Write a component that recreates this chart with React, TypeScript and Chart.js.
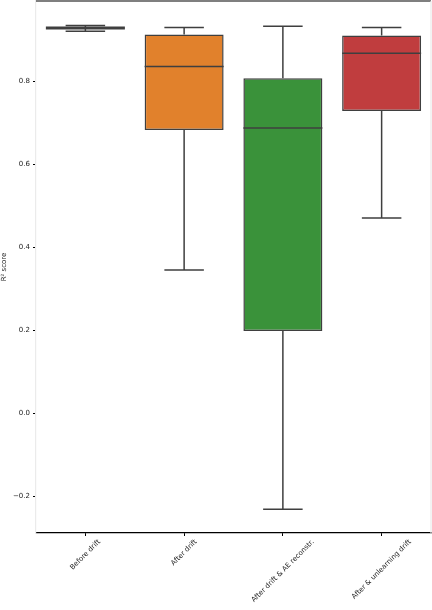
import React, { useEffect, useRef } from "react";
import { Chart, registerables } from "chart.js";

Chart.register(...registerables);

const categories = ["Before drift", "After drift", "After drift & AE reconstr.", "After & unlearning drift"];
const whiskerLow = [0.920, 0.345, -0.232, 0.470];
const q1 = [0.927, 0.682, 0.198, 0.728];
const medians = [0.928, 0.835, 0.687, 0.867];
const q3 = [0.929, 0.912, 0.807, 0.910];
const whiskerHigh = [0.934, 0.929, 0.932, 0.929];
const yTicks = [-0.2, 0.0, 0.2, 0.4, 0.6, 0.8];
const colors = ["#3274a1", "#e1812c", "#3a923a", "#c03d3e"];

const LINE = "#3f3f3f";
const FONT = "7px 'DejaVu Sans'";

const boxPlugin = {
  id: "boxExtras",
  afterDatasetsDraw(chart: any) {
    const ctx = chart.ctx;
    const y = chart.scales.y;
    const x = chart.scales.x;
    const meta = chart.getDatasetMeta(0);
    ctx.save();
    ctx.strokeStyle = LINE;
    ctx.lineWidth = 1.5;
    meta.data.forEach((bar: any, i: number) => {
      const cx = bar.x;
      const w = bar.width;
      const capHalf = w / 4;
      const pHi = y.getPixelForValue(whiskerHigh[i]);
      const pLo = y.getPixelForValue(whiskerLow[i]);
      const pQ1 = y.getPixelForValue(q1[i]);
      const pQ3 = y.getPixelForValue(q3[i]);
      const pMed = y.getPixelForValue(medians[i]);
      ctx.beginPath();
      ctx.moveTo(cx, pQ3);
      ctx.lineTo(cx, pHi);
      ctx.moveTo(cx, pQ1);
      ctx.lineTo(cx, pLo);
      ctx.moveTo(cx - capHalf, pHi);
      ctx.lineTo(cx + capHalf, pHi);
      ctx.moveTo(cx - capHalf, pLo);
      ctx.lineTo(cx + capHalf, pLo);
      ctx.stroke();
      ctx.beginPath();
      ctx.lineWidth = i === 0 ? 3 : 1.5;
      ctx.moveTo(bar.x - w / 2, pMed);
      ctx.lineTo(bar.x + w / 2, pMed);
      ctx.stroke();
      ctx.lineWidth = 1.5;
    });
    // spines
    const a = chart.chartArea;
    ctx.lineWidth = 1.2;
    ctx.strokeStyle = "#000";
    ctx.beginPath();
    ctx.moveTo(a.left, a.top);
    ctx.lineTo(a.right, a.top);
    ctx.stroke();
    ctx.strokeStyle = "#ebebeb";
    ctx.beginPath();
    ctx.moveTo(a.right, a.top);
    ctx.lineTo(a.right, a.bottom);
    ctx.stroke();
    // rotated x labels, centred on ticks (matplotlib ha='center')
    ctx.font = FONT;
    ctx.fillStyle = "#222";
    ctx.textAlign = "center";
    ctx.textBaseline = "middle";
    const yTop = a.bottom + 5;
    categories.forEach((lab, i) => {
      const px = x.getPixelForValue(i);
      const W = ctx.measureText(lab).width;
      const H = 8;
      const d = (W + H) / (2 * Math.SQRT2);
      ctx.save();
      ctx.translate(px, yTop + d);
      ctx.rotate(-Math.PI / 4);
      ctx.fillText(lab, 0, 0);
      ctx.restore();
    });
    ctx.restore();
  },
};

export default function App() {
  const ref = useRef<HTMLCanvasElement | null>(null);
  useEffect(() => {
    document.body.style.margin = "0";
    const chart = new Chart(ref.current as HTMLCanvasElement, {
      type: "bar",
      data: {
        labels: categories,
        datasets: [
          {
            data: q1.map((v, i) => [v, q3[i]]) as any,
            backgroundColor: colors,
            borderColor: LINE,
            borderWidth: 1.5,
            borderSkipped: false,
            categoryPercentage: 0.8,
            barPercentage: 1.0,
          },
        ],
      },
      options: {
        animation: false,
        responsive: false,
        maintainAspectRatio: false,
        layout: { padding: { top: 1, right: 1, left: 0, bottom: 0 } },
        plugins: { legend: { display: false }, tooltip: { enabled: false } },
        scales: {
          x: {
            grid: { display: true, offset: false, drawOnChartArea: false, drawTicks: true, tickLength: 3, color: "#000" },
            border: { color: "#000", width: 1.2 },
            ticks: { display: false },
            afterFit(scale: any) {
              scale.height = 77;
              scale.paddingLeft = 0;
              scale.paddingRight = 0;
            },
          },
          y: {
            min: -0.289,
            max: 0.993,
            grid: { display: true, drawOnChartArea: false, drawTicks: true, tickLength: 3, color: "#000" },
            border: { color: "#ebebeb", width: 1.2 },
            afterBuildTicks(scale: any) {
              scale.ticks = yTicks.map((v) => ({ value: v }));
            },
            ticks: {
              color: "#222",
              font: { family: "DejaVu Sans", size: 7 },
              padding: 3,
              callback: (v: any) => {
                const n = Number(v);
                const s = Math.abs(n).toFixed(1);
                return n < -1e-9 ? "\u2212" + s : s;
              },
            },
            title: {
              display: true,
              text: "R\u00b2 score",
              color: "#222",
              font: { family: "DejaVu Sans", size: 7 },
              padding: { top: 0, bottom: 0 },
            },
            afterFit(scale: any) {
              scale.width = 36;
              scale.paddingTop = 0;
              scale.paddingBottom = 0;
            },
          },
        },
      },
      plugins: [boxPlugin],
    });
    return () => chart.destroy();
  }, []);
  return <canvas ref={ref} width={432} height={610} style={{ display: "block" }} />;
}
